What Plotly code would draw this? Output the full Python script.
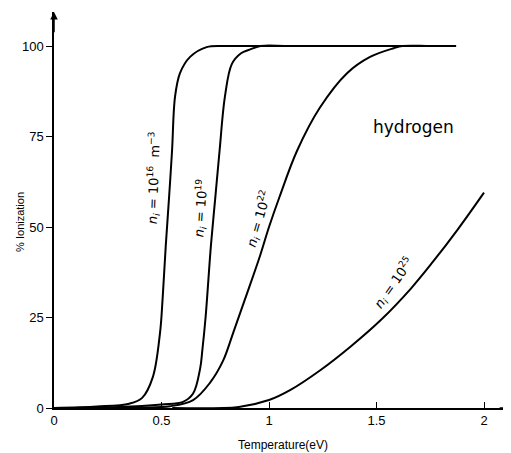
import plotly.graph_objects as go

# Temperature (eV) and % ionization, per density
t_1e16 = [0.0, 0.2, 0.35, 0.41, 0.46, 0.493, 0.505, 0.52, 0.535, 0.549, 0.563, 0.586, 0.633, 0.71, 0.8, 1.0, 1.87]
p_1e16 = [0.0, 0.4, 1.2, 2.8, 8.6, 20.7, 30, 45, 58, 71, 86, 92.5, 97, 99.7, 100, 100, 100]

t_1e19 = [0.0, 0.3, 0.5, 0.6, 0.647, 0.68, 0.69, 0.705, 0.73, 0.75, 0.77, 0.795, 0.827, 0.87, 0.91, 0.96, 1.1, 1.87]
p_1e19 = [0.0, 0.3, 1.0, 1.7, 4, 11, 16, 25, 45, 58, 71, 86, 95, 98, 99, 100, 100, 100]

t_1e22 = [0.0, 0.4, 0.54, 0.647, 0.726, 0.786, 0.833, 0.888, 0.958, 1.0, 1.05, 1.13, 1.237, 1.363, 1.47, 1.58, 1.62, 1.75, 1.87]
p_1e22 = [0.0, 0.1, 0.5, 2.2, 7, 13, 20.7, 30, 42, 50, 58.5, 71, 83, 92.5, 97, 99.4, 100, 100, 100]

t_1e25 = [0.55, 0.86, 1.0, 1.1, 1.24, 1.38, 1.52, 1.66, 1.76, 1.88, 2.0]
p_1e25 = [0.0, 0.3, 2.2, 5, 10.5, 17, 24.3, 33, 40.2, 49.5, 59.5]

x_ticks = [0, 0.5, 1, 1.5, 2]
x_tick_labels = ["0", "0.5", "1", "1.5", "2"]
y_ticks = [0, 25, 50, 75, 100]
y_tick_labels = ["0", "25", "50", "75", "100"]

curve_labels = [
    "<i>n</i><sub><i>i</i></sub> = 10<sup>16</sup>  m<sup>−3</sup>",
    "<i>n</i><sub><i>i</i></sub> = 10<sup>19</sup>",
    "<i>n</i><sub><i>i</i></sub> = 10<sup>22</sup>",
    "<i>n</i><sub><i>i</i></sub> = 10<sup>25</sup>",
]
label_x = [0.465, 0.684, 0.953, 1.581]
label_y = [63.8, 55.2, 52.2, 34.5]
label_angle = [-88, -86, -74, -55]

X_MAX = 2.1256
Y_MAX = 109.4

fig = go.Figure()
for tx, py in [(t_1e16, p_1e16), (t_1e19, p_1e19), (t_1e22, p_1e22), (t_1e25, p_1e25)]:
    fig.add_trace(go.Scatter(x=tx, y=py, mode="lines",
                             line=dict(color="black", width=2, shape="spline", smoothing=1.0),
                             cliponaxis=False, showlegend=False, hoverinfo="skip"))

annotations = []
for txt, lx, ly, ang in zip(curve_labels, label_x, label_y, label_angle):
    annotations.append(dict(x=lx, y=ly, xref="x", yref="y", text=txt, showarrow=False,
                            textangle=ang, font=dict(family="DejaVu Sans", size=13, color="black")))
annotations.append(dict(x=1.67, y=77.6, xref="x", yref="y", text="hydrogen", showarrow=False,
                        font=dict(family="DejaVu Sans", size=17, color="black")))
# axis titles
annotations.append(dict(x=0.5, y=-0.094, xref="paper", yref="paper", text="Temperature(eV)",
                        showarrow=False, xanchor="center", yanchor="middle",
                        font=dict(family="Liberation Sans", size=12, color="black")))
annotations.append(dict(x=-0.0744, y=0.47, xref="paper", yref="paper", text="% Ionization",
                        showarrow=False, xanchor="center", yanchor="middle", textangle=-90,
                        font=dict(family="Liberation Sans", size=11, color="black")))
# axis arrowheads
annotations.append(dict(x=X_MAX, y=0, ax=X_MAX - 0.06, ay=0, xref="x", yref="y", axref="x", ayref="y",
                        text="", showarrow=True, arrowhead=2, arrowsize=1, arrowwidth=1.5, arrowcolor="black"))
annotations.append(dict(x=0, y=Y_MAX, ax=0, ay=Y_MAX - 6, xref="x", yref="y", axref="x", ayref="y",
                        text="", showarrow=True, arrowhead=2, arrowsize=1, arrowwidth=1.5, arrowcolor="black"))

# the page adds an 8px body margin, so the figure is sized/margined to compensate
fig.update_layout(
    width=503, height=445,
    margin=dict(l=46, r=0, t=4, b=45),
    paper_bgcolor="white", plot_bgcolor="white",
    font=dict(family="Liberation Sans", color="black"),
    annotations=annotations,
    xaxis=dict(range=[0, X_MAX], automargin=False, showgrid=False, zeroline=False, showline=True,
               linecolor="black", linewidth=1.5, ticks="inside", ticklen=6, tickwidth=1, tickcolor="black",
               tickvals=x_ticks, ticktext=x_tick_labels, tickfont=dict(size=13, color="black")),
    yaxis=dict(range=[0, Y_MAX], automargin=False, showgrid=False, zeroline=False, showline=True,
               linecolor="black", linewidth=1.5, ticks="outside", ticklen=6, tickwidth=1, tickcolor="black",
               tickvals=y_ticks, ticktext=y_tick_labels, tickfont=dict(size=13, color="black")),
)

fig.write_html("out.html")
